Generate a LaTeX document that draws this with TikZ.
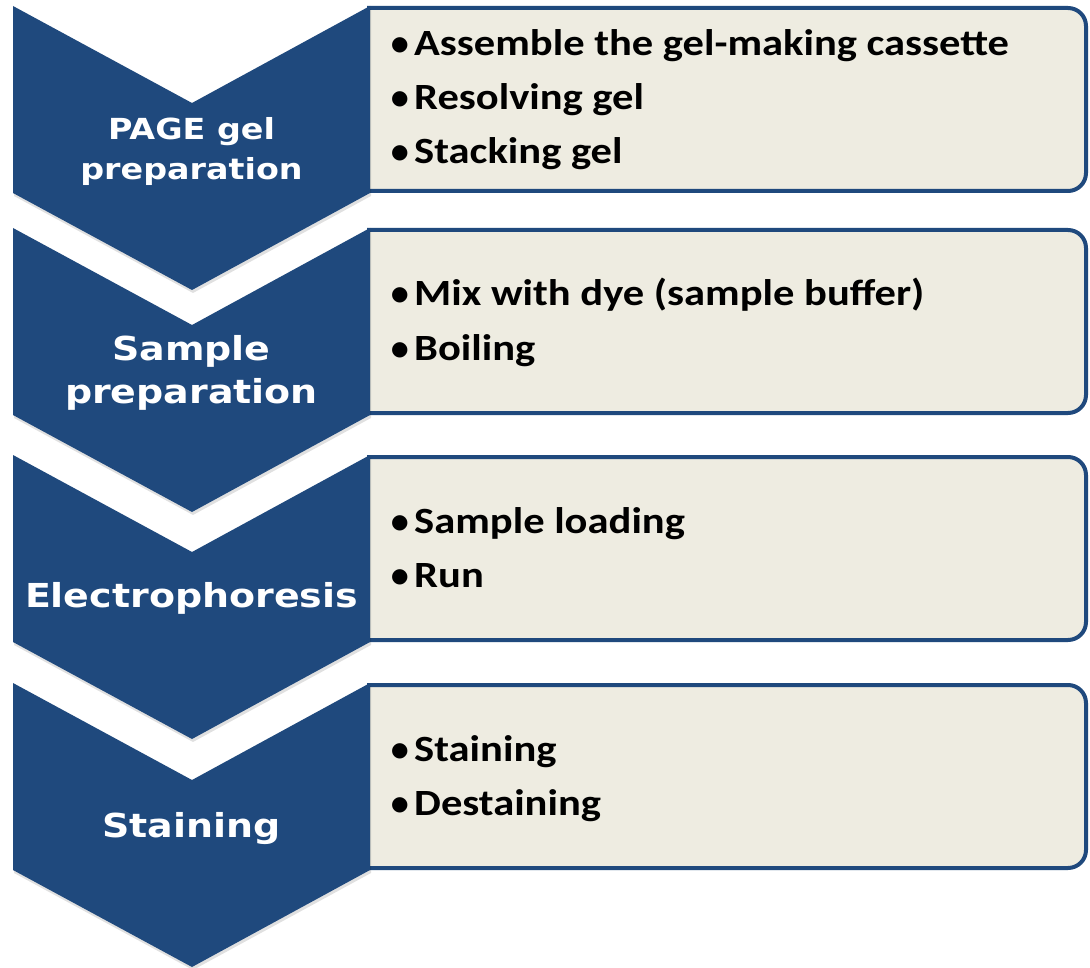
\documentclass[tikz,border=0pt]{standalone}
\usepackage{fontspec}
\setmainfont{Carlito}
\newfontfamily\chevfont{DejaVu Sans}
\newfontfamily\bulfont{DejaVu Sans}
\definecolor{chev}{HTML}{1F497D}
\definecolor{boxfill}{HTML}{EEECE1}
\newcommand\wide[1]{\scalebox{1.15}[1]{#1}}
\newcommand\bul{\makebox[21pt][l]{\hspace*{-2pt}\fontsize{20}{20}\selectfont\bulfont\raisebox{5pt}{●}}}
\begin{document}
\begin{tikzpicture}[x=1pt,y=-1pt,
  chevron/.style={fill=chev},
  chevshadow/.style={fill=black,opacity=0.12},
  stepbox/.style={fill=boxfill,draw=chev,line width=4pt},
  title/.style={text=white,font=\chevfont\bfseries\fontsize{33}{40}\selectfont,anchor=base,inner sep=0pt},
  smalltitle/.style={title,font=\chevfont\bfseries\fontsize{29}{36}\selectfont},
  item/.style={font=\bfseries\fontsize{37}{54}\selectfont,anchor=base west,inner sep=0pt}]
\useasboundingbox[fill=white] (0,0) rectangle (1090,968);
% boxes
\foreach \t in {6,228,455,683}{
  \path[fill=boxfill] (367,{\t+2}) [rounded corners=18] -- (1086,{\t+2}) -- (1086,{\t+185}) [sharp corners] -- (367,{\t+185}) -- cycle;
  \draw[stepbox,fill=none] (367,{\t+2}) [rounded corners=18] -- (1086,{\t+2}) -- (1086,{\t+185}) [sharp corners] -- (367,{\t+185});
}
% chevrons
\foreach \t in {6,228,455,683}{
  \fill[chevshadow] (14,{\t+3}) -- (193,{\t+100}) -- (371,{\t+3}) -- (371,{\t+190}) -- (193,{\t+287}) -- (14,{\t+190}) -- cycle;
  \fill[chevron] (13,\t) -- (192,{\t+97}) -- (370,\t) -- (370,{\t+187}) -- (192,{\t+284}) -- (13,{\t+187}) -- cycle;
}
% chevron titles
\node[smalltitle] (t1a) at (191.5,140) {\wide{PAGE gel}};
\node[smalltitle] (t1b) at (191.5,180) {\wide{preparation}};
\node[title] (t2a) at (191.5,360) {\wide{Sample}};
\node[title] (t2b) at (191.5,403) {\wide{preparation}};
\node[title] (t3) at (191.5,607) {\wide{Electrophoresis}};
\node[title] (t4) at (191.5,837) {\wide{Staining}};
% items
\node[item] (a1) at (393,56) {\bul\wide{Assemble the gel-making cassette}};
\node[item] (a2) at (393,110) {\bul\wide{Resolving gel}};
\node[item] (a3) at (393,164) {\bul\wide{Stacking gel}};
\node[item] (b1) at (393,306) {\bul\wide{Mix with dye (sample buffer)}};
\node[item] (b2) at (393,360) {\bul\wide{Boiling}};
\node[item] (c1) at (393,533) {\bul\wide{Sample loading}};
\node[item] (c2) at (393,587) {\bul\wide{Run}};
\node[item] (d1) at (393,761) {\bul\wide{Staining}};
\node[item] (d2) at (393,815) {\bul\wide{Destaining}};
\end{tikzpicture}
\end{document}
